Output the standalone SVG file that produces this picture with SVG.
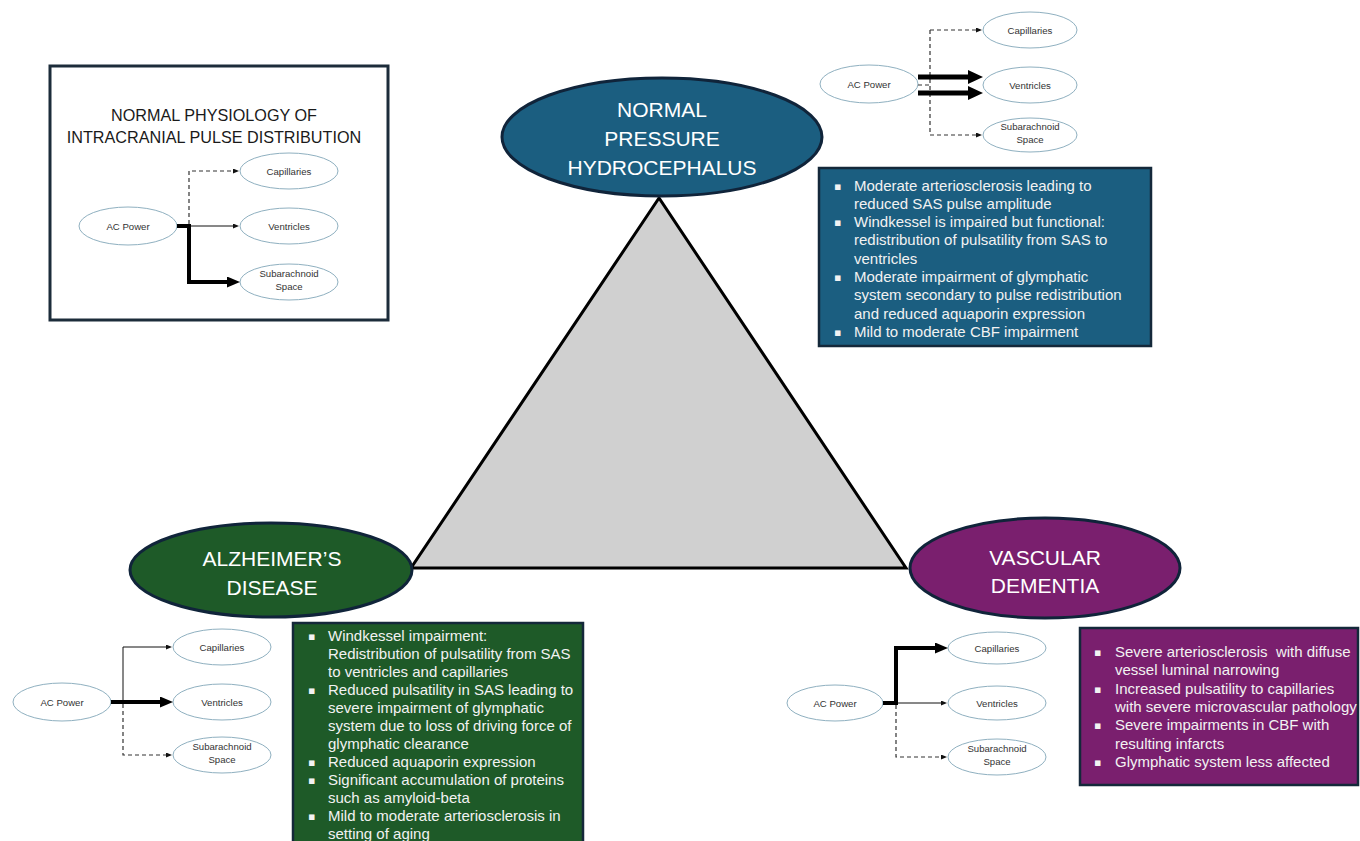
<svg xmlns="http://www.w3.org/2000/svg" width="1360" height="841" viewBox="0 0 1360 841">
<style>
.mini{fill:#fff;stroke:#8fb0c0;stroke-width:1}
.mt{font-family:"Liberation Sans",Arial,sans-serif;font-size:9.6px;fill:#333;text-anchor:middle}
.big{font-family:"Liberation Sans",Arial,sans-serif;font-size:21px;fill:#fff;text-anchor:middle}
.bt{font-family:"Liberation Sans",Arial,sans-serif;font-size:15px;fill:#f2f2f2}
.bul{font-family:"DejaVu Sans",sans-serif;font-size:11px;fill:#f2f2f2}
.title{font-family:"Liberation Sans",Arial,sans-serif;font-size:16.2px;fill:#1a1a1a;text-anchor:middle}
.thin{stroke:#111;stroke-width:1;fill:none}
.thick{stroke:#000;stroke-width:4;fill:none}
.thick5{stroke:#000;stroke-width:5;fill:none}
.dash{stroke:#333;stroke-width:1.2;stroke-dasharray:4 3;fill:none}
.dis{stroke:#10243a;stroke-width:3}
.box{stroke:#14283a;stroke-width:2.5}
</style>
<defs>
<marker id="sm" markerUnits="userSpaceOnUse" markerWidth="6" markerHeight="5" refX="1" refY="2.5" orient="auto" viewBox="0 0 6 5"><path d="M0,0 L6,2.5 L0,5 z" fill="#111"/></marker>
<marker id="lg" markerUnits="userSpaceOnUse" markerWidth="13" markerHeight="11" refX="1" refY="5.5" orient="auto" viewBox="0 0 13 11"><path d="M0,0 L13,5.5 L0,11 z" fill="#000"/></marker>
<marker id="xl" markerUnits="userSpaceOnUse" markerWidth="15" markerHeight="14" refX="1" refY="7" orient="auto" viewBox="0 0 15 14"><path d="M0,0 L15,7 L0,14 z" fill="#000"/></marker>
</defs>
<rect width="1360" height="841" fill="#fff"/>

<!-- Triangle -->
<g id="triangle">
<polygon points="659,198 411,568 906,568" fill="#d0d0d0" stroke="#000" stroke-width="3" stroke-linejoin="miter"/>
</g>

<!-- Normal physiology panel -->
<g id="normal-panel">
<rect x="50" y="66" width="338" height="254" fill="#fff" stroke="#1c2c3a" stroke-width="3"/>
<text class="title" x="214" y="121">NORMAL PHYSIOLOGY OF</text>
<text class="title" x="214" y="143">INTRACRANIAL PULSE DISTRIBUTION</text>
</g>
<g id="n-ac"><ellipse class="mini" cx="128" cy="226" rx="49" ry="19"/><text class="mt" x="128" y="229.5">AC Power</text></g>
<g id="n-cap"><ellipse class="mini" cx="289" cy="171" rx="49" ry="18"/><text class="mt" x="289" y="174.5">Capillaries</text></g>
<g id="n-ven"><ellipse class="mini" cx="289" cy="226" rx="49" ry="18"/><text class="mt" x="289" y="229.5">Ventricles</text></g>
<g id="n-sas"><ellipse class="mini" cx="289" cy="282" rx="49" ry="18"/><text class="mt" x="289" y="276.5">Subarachnoid</text><text class="mt" x="289" y="289.5">Space</text></g>

<!-- NPH mini diagram -->
<g id="h-ac"><ellipse class="mini" cx="869" cy="84" rx="49" ry="19"/><text class="mt" x="869" y="87.5">AC Power</text></g>
<g id="h-cap"><ellipse class="mini" cx="1030" cy="30" rx="47" ry="18"/><text class="mt" x="1030" y="33.5">Capillaries</text></g>
<g id="h-ven"><ellipse class="mini" cx="1030" cy="85" rx="47" ry="18"/><text class="mt" x="1030" y="88.5">Ventricles</text></g>
<g id="h-sas"><ellipse class="mini" cx="1030" cy="135" rx="47" ry="17"/><text class="mt" x="1030" y="130">Subarachnoid</text><text class="mt" x="1030" y="143">Space</text></g>

<!-- AD mini diagram -->
<g id="a-ac"><ellipse class="mini" cx="62" cy="702" rx="49" ry="19"/><text class="mt" x="62" y="705.5">AC Power</text></g>
<g id="a-cap"><ellipse class="mini" cx="222" cy="647" rx="49" ry="18"/><text class="mt" x="222" y="650.5">Capillaries</text></g>
<g id="a-ven"><ellipse class="mini" cx="222" cy="702" rx="49" ry="18"/><text class="mt" x="222" y="705.5">Ventricles</text></g>
<g id="a-sas"><ellipse class="mini" cx="222" cy="755" rx="49" ry="18"/><text class="mt" x="222" y="749.5">Subarachnoid</text><text class="mt" x="222" y="762.5">Space</text></g>

<!-- VD mini diagram -->
<g id="v-ac"><ellipse class="mini" cx="835" cy="703" rx="48" ry="18"/><text class="mt" x="835" y="706.5">AC Power</text></g>
<g id="v-cap"><ellipse class="mini" cx="997" cy="648" rx="49" ry="16"/><text class="mt" x="997" y="651.5">Capillaries</text></g>
<g id="v-ven"><ellipse class="mini" cx="997" cy="703" rx="49" ry="17"/><text class="mt" x="997" y="706.5">Ventricles</text></g>
<g id="v-sas"><ellipse class="mini" cx="997" cy="757" rx="49" ry="18"/><text class="mt" x="997" y="751.5">Subarachnoid</text><text class="mt" x="997" y="764.5">Space</text></g>

<!-- Connectors -->
<g id="connectors">
<!-- normal -->
<path class="dash" d="M189,224 V171 H234" marker-end="url(#sm)"/>
<path class="thin" d="M189,226 H234" marker-end="url(#sm)"/>
<path class="thick" d="M177,226 H189 V282 H228" marker-end="url(#lg)"/>
<!-- NPH -->
<path class="dash" d="M918,85 H930"/>
<path class="dash" d="M930,30 V135"/>
<path class="dash" d="M930,30 H977" marker-end="url(#sm)"/>
<path class="dash" d="M930,135 H977" marker-end="url(#sm)"/>
<path class="thick5" d="M918,77 H969" marker-end="url(#xl)"/>
<path class="thick5" d="M918,93 H969" marker-end="url(#xl)"/>
<!-- AD -->
<path class="thin" d="M123,702 V647 H167" marker-end="url(#sm)"/>
<path class="dash" d="M123,704 V755 H167" marker-end="url(#sm)"/>
<path class="thick" d="M111,702 H161" marker-end="url(#lg)"/>
<!-- VD -->
<path class="thin" d="M896,703 H942" marker-end="url(#sm)"/>
<path class="dash" d="M896,705 V757 H942" marker-end="url(#sm)"/>
<path class="thick" d="M883,703 H896 V648 H936" marker-end="url(#lg)"/>
</g>

<!-- Disease ellipses -->
<g id="nph">
<ellipse class="dis" cx="662" cy="137" rx="160" ry="59" fill="#1b5e80"/>
<text class="big" x="662" y="117">NORMAL</text>
<text class="big" x="662" y="146">PRESSURE</text>
<text class="big" x="662" y="175">HYDROCEPHALUS</text>
</g>
<g id="ad">
<ellipse class="dis" cx="271" cy="570" rx="141" ry="47" fill="#1e5a28"/>
<text class="big" x="272" y="566">ALZHEIMER’S</text>
<text class="big" x="272" y="595">DISEASE</text>
</g>
<g id="vd">
<ellipse class="dis" cx="1045" cy="568" rx="135" ry="50" fill="#7a1f6e"/>
<text class="big" x="1045" y="565">VASCULAR</text>
<text class="big" x="1045" y="593">DEMENTIA</text>
</g>

<!-- Text boxes -->
<g id="nph-box">
<rect class="box" x="819" y="168" width="332" height="178" fill="#1b5e80"/>
<text class="bul" x="834" y="189.5">▪</text>
<text class="bt" x="854" y="190.5">Moderate arteriosclerosis leading to</text>
<text class="bt" x="854" y="208.8">reduced SAS pulse amplitude</text>
<text class="bul" x="834" y="226.1">▪</text>
<text class="bt" x="854" y="227.1">Windkessel is impaired but functional:</text>
<text class="bt" x="854" y="245.4">redistribution of pulsatility from SAS to</text>
<text class="bt" x="854" y="263.7">ventricles</text>
<text class="bul" x="834" y="281">▪</text>
<text class="bt" x="854" y="282">Moderate impairment of glymphatic</text>
<text class="bt" x="854" y="300.3">system secondary to pulse redistribution</text>
<text class="bt" x="854" y="318.6">and reduced aquaporin expression</text>
<text class="bul" x="834" y="335.9">▪</text>
<text class="bt" x="854" y="336.9">Mild to moderate CBF impairment</text>
</g>
<g id="ad-box">
<rect class="box" x="293" y="623" width="290" height="230" fill="#1e5a28"/>
<text class="bul" x="308" y="640">▪</text>
<text class="bt" x="328" y="641">Windkessel impairment:</text>
<text class="bt" x="328" y="659">Redistribution of pulsatility from SAS</text>
<text class="bt" x="328" y="677">to ventricles and capillaries</text>
<text class="bul" x="308" y="694">▪</text>
<text class="bt" x="328" y="695">Reduced pulsatility in SAS leading to</text>
<text class="bt" x="328" y="713">severe impairment of glymphatic</text>
<text class="bt" x="328" y="731">system due to loss of driving force of</text>
<text class="bt" x="328" y="749">glymphatic clearance</text>
<text class="bul" x="308" y="766">▪</text>
<text class="bt" x="328" y="767">Reduced aquaporin expression</text>
<text class="bul" x="308" y="784">▪</text>
<text class="bt" x="328" y="785">Significant accumulation of proteins</text>
<text class="bt" x="328" y="803">such as amyloid-beta</text>
<text class="bul" x="308" y="820">▪</text>
<text class="bt" x="328" y="821">Mild to moderate arteriosclerosis in</text>
<text class="bt" x="328" y="839">setting of aging</text>
</g>
<g id="vd-box">
<rect class="box" x="1080" y="628" width="278" height="157" fill="#7a1f6e"/>
<text class="bul" x="1094" y="656">▪</text>
<text class="bt" x="1115" y="657" xml:space="preserve">Severe arteriosclerosis  with diffuse</text>
<text class="bt" x="1115" y="675.3">vessel luminal narrowing</text>
<text class="bul" x="1094" y="692.6">▪</text>
<text class="bt" x="1115" y="693.6">Increased pulsatility to capillaries</text>
<text class="bt" x="1115" y="711.9">with severe microvascular pathology</text>
<text class="bul" x="1094" y="729.2">▪</text>
<text class="bt" x="1115" y="730.2">Severe impairments in CBF with</text>
<text class="bt" x="1115" y="748.5">resulting infarcts</text>
<text class="bul" x="1094" y="765.8">▪</text>
<text class="bt" x="1115" y="766.8">Glymphatic system less affected</text>
</g>
</svg>
